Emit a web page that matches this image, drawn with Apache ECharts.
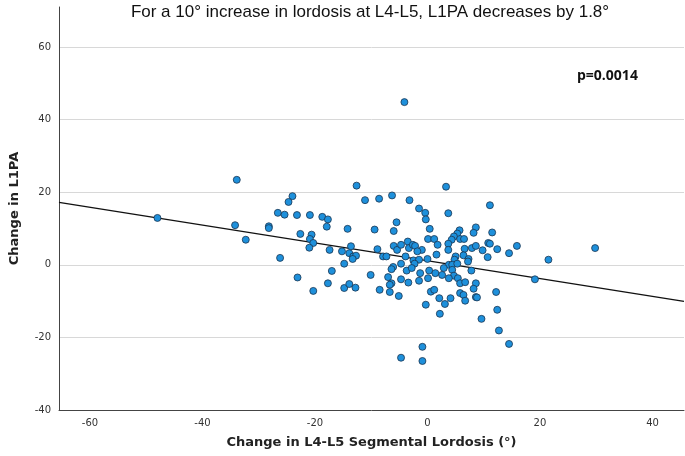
<!DOCTYPE html>
<html>
<head>
<meta charset="utf-8">
<script src="https://cdn.jsdelivr.net/npm/echarts@6/dist/echarts.min.js"></script>
<style>html,body{margin:0;padding:0;background:#fff}#chart{width:685px;height:456px}</style>
</head>
<body>
<div id="chart"></div>
<script>
// points: [change in L4-L5 lordosis, change in L1PA]
const points = [
  [-33.9,23.4],[-48,12.9],[-34.2,10.9],[-32.3,6.9],[-28.2,10.6],[-28.2,10.1],[-26.6,14.3],[-25.4,13.8],[-26.2,1.9],
  [-12.6,21.8],[-24,18.9],[-24.7,17.3],[-11.1,17.8],[-8.6,18.2],[-6.3,19.1],[-3.2,17.8],[-23.2,13.7],[-20.9,13.7],
  [-18.7,13.2],[-17.7,12.5],[-17.9,10.5],[-1.5,15.5],[-0.4,14.3],[-0.3,12.5],[-5.5,11.7],[-14.2,9.9],[-9.4,9.7],
  [-6,9.3],[0.4,9.9],[-22.6,8.5],[-20.6,8.3],[-20.9,7.1],[-20.3,6],[-21,4.7],[0.1,7.1],[-17.4,4.1],[-15.2,3.7],
  [-13.9,3.2],[-13.6,5.1],[-13.2,2.3],[-12.7,2.5],[-13.3,1.6],[-8.9,4.3],[-7.9,2.3],[-7.3,2.3],[-6,5.2],[-5.4,4.1],
  [-4.7,5.5],[-3.5,6.4],[-3.3,4.6],[-2.6,5.5],[-2.2,5.2],[-1,4.1],[-1.8,3.7],[-3.9,2.3],[-2.5,1.2],[-1.5,1.4],
  [0,1.6],[-2.3,0.3],[-14.8,0.3],[0.3,-1.6],[-6.1,-0.6],[-6.4,-1.2],[-4.7,0.3],[-3.7,-1.6],[-2.8,-0.9],[-1.3,-2.3],
  [-17,-1.7],[-23.1,-3.5],[-10.1,-2.8],[-7,-3.4],[-6.4,-5.1],[-6.7,-5.5],[-4.7,-4],[-3.4,-4.9],[-1.5,-4.4],[0.1,-3.7],
  [-17.7,-5.1],[-20.3,-7.2],[-14.8,-6.4],[-13.9,-5.3],[-12.8,-6.3],[-8.5,-6.9],[-6.7,-7.5],[-5.1,-8.6],[0.6,-7.4],
  [3.3,21.5],[11.1,16.4],[3.7,14.2],[8.6,10.3],[8.2,8.8],[11.5,8.9],[5.7,9.5],[5.3,8.6],[4.7,7.8],[4.3,6.9],[3.7,5.8],
  [5.8,7.1],[6.5,7.1],[1.2,7.1],[1.8,5.5],[3.7,4.1],[6.6,4.4],[7.9,4.6],[8.6,5.2],[10.8,6],[11.1,5.8],[9.8,4],
  [12.4,4.3],[15.9,5.2],[14.5,3.2],[10.7,2.1],[21.5,1.4],[1.6,2.8],[5,2.3],[4.8,1.4],[6.4,2.6],[7.3,1.6],[7.2,0.9],
  [3.8,0],[4.4,0],[2.9,-0.9],[5.3,0.3],[4.4,-1.4],[7.8,-1.6],[1.4,-2.3],[2.6,-2.8],[4.7,-3],[5.4,-3.7],[3.8,-3.7],
  [5.8,-5.1],[6.7,-4.8],[8.6,-5.1],[8.2,-6.6],[19.1,-4],[12.2,-7.5],[1.2,-6.9],[5.8,-7.8],[6.4,-8.3],[2.1,-9.2],
  [4.1,-9.2],[8.6,-8.9],[-0.3,-11],[2.2,-13.5],[3.1,-10.8],[6.7,-9.9],[8.8,-9],[12.4,-12.4],[9.6,-14.9],[12.7,-18.1],
  [14.5,-21.8],[-0.9,-22.6],[-4.7,-25.6],[-0.9,-26.5],[-4.1,44.8],[29.8,4.6]
];
const fitLine = [[-65.5,17.2],[45.6,-10.1]];
const xTicks = [-60,-40,-20,0,20,40];

const chart = echarts.init(document.getElementById('chart'));
chart.setOption({
  animation:false,
  title:{text:'For a 10° increase in lordosis at L4-L5, L1PA decreases by 1.8°',left:365,textAlign:'center',top:-1,
    textStyle:{fontFamily:'Liberation Sans',fontSize:17,fontWeight:'normal',color:'#111'}},
  graphic:[{type:'text',left:577,top:69,style:{text:'p=0.0014',font:'bold 14px "Open Sans"',fill:'#111'}}],
  grid:{left:51,right:1,top:7,bottom:46},
  xAxis:{type:'value',min:-65.5,max:45.6,
    name:'Change in L4-L5 Segmental Lordosis (°)',nameLocation:'middle',nameGap:26,
    nameTextStyle:{fontFamily:'DejaVu Sans',fontSize:13,fontWeight:'bold',color:'#222'},
    axisLine:{onZero:false,lineStyle:{color:'#444',width:1}},axisTick:{show:false},splitLine:{show:false},
    axisLabel:{customValues:xTicks,color:'#333',fontSize:10,fontFamily:'DejaVu Sans',margin:8,
      formatter:v=>String(v)}},
  yAxis:{type:'value',min:-40,max:71,interval:20,
    name:'Change in L1PA',nameLocation:'middle',nameGap:38,
    nameTextStyle:{fontFamily:'DejaVu Sans',fontSize:13,fontWeight:'bold',color:'#222'},
    axisLine:{show:true,onZero:false,lineStyle:{color:'#444',width:1}},axisTick:{show:false},
    splitLine:{showMaxLine:false,showMinLine:false,lineStyle:{color:'#d8d8d8',width:1}},
    axisLabel:{color:'#333',fontSize:10,fontFamily:'DejaVu Sans',margin:8,showMaxLabel:false}},
  series:[
    {type:'line',data:fitLine,symbol:'none',lineStyle:{color:'#111',width:1.3},z:1},
    {type:'scatter',data:points,symbol:'circle',symbolSize:7,
      itemStyle:{color:'#1e90db',borderColor:'#1b3550',borderWidth:0.8,opacity:1},z:2}
  ]
});
</script>
</body>
</html>
